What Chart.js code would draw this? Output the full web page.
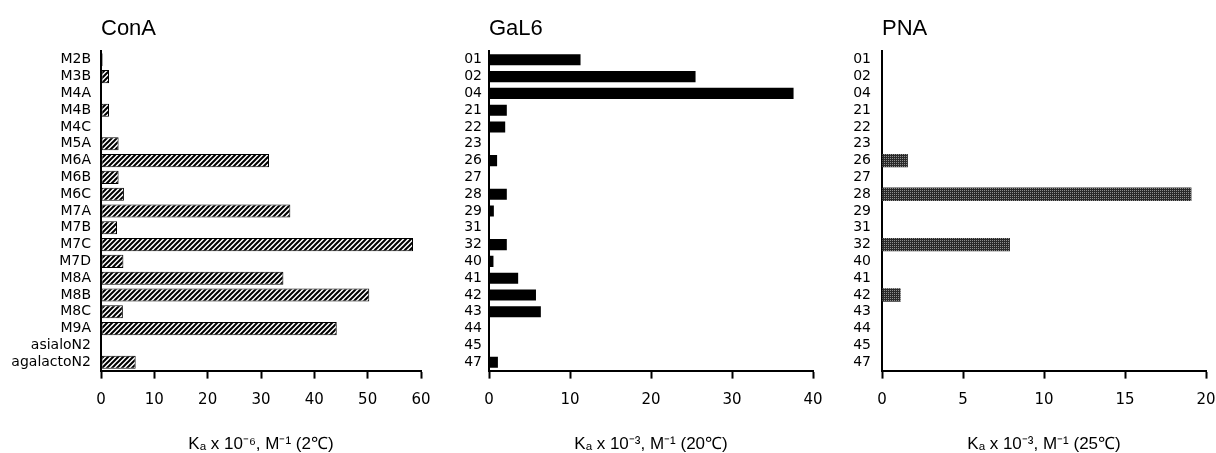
<!DOCTYPE html>
<html>
<head>
<meta charset="utf-8">
<script src="https://cdn.jsdelivr.net/npm/chart.js@4.4.1/dist/chart.umd.min.js"></script>
<style>
  body { margin: 0; background: #fff; overflow: hidden; }
  .panel { position: absolute; top: 0; }
</style>
</head>
<body>
<div class="panel" style="left:0px"><canvas id="cona" width="440" height="453"></canvas></div>
<div class="panel" style="left:440px"><canvas id="gal6" width="390" height="453"></canvas></div>
<div class="panel" style="left:830px"><canvas id="pna" width="386" height="453"></canvas></div>
<script>
// ConA panel
const conaLabels = ['M2B','M3B','M4A','M4B','M4C','M5A','M6A','M6B','M6C','M7A','M7B','M7C','M7D','M8A','M8B','M8C','M9A','asialoN2','agalactoN2'];
const conaValues = [0.3, 1.5, 0, 1.5, 0.2, 3.3, 31.5, 3.3, 4.3, 35.5, 3, 58.5, 4.2, 34.2, 50.3, 4.1, 44.2, 0.2, 6.5];
const conaTicks = [0, 60, 10];

// GaL6 and PNA panels share the same oligosaccharide ids
const sugarLabels = ['01','02','04','21','22','23','26','27','28','29','31','32','40','41','42','43','44','45','47'];
const gal6Values = [11.3, 25.5, 37.6, 2.2, 2.0, 0, 1.0, 0, 2.2, 0.6, 0, 2.2, 0.55, 3.6, 5.8, 6.4, 0, 0, 1.1];
const gal6Ticks = [0, 40, 10];
const pnaValues = [0, 0, 0, 0, 0, 0, 1.6, 0, 19.1, 0, 0, 7.9, 0, 0, 1.15, 0, 0, 0, 0];
const pnaTicks = [0, 20, 5];

function hatch() {
  const c = document.createElement('canvas');
  c.width = 5; c.height = 5;
  const g = c.getContext('2d');
  g.fillStyle = '#fff';
  g.fillRect(0, 0, 5, 5);
  g.strokeStyle = '#000';
  g.lineWidth = 2;
  g.beginPath();
  g.moveTo(-1, 6); g.lineTo(6, -1);
  g.moveTo(-1, 1); g.lineTo(1, -1);
  g.moveTo(4, 6); g.lineTo(6, 4);
  g.stroke();
  return g.createPattern(c, 'repeat');
}

function stipple() {
  const c = document.createElement('canvas');
  c.width = 2; c.height = 2;
  const g = c.getContext('2d');
  g.fillStyle = '#2a2a2a'; g.fillRect(0, 0, 2, 2);
  g.fillStyle = '#8f8f8f'; g.fillRect(0, 0, 1, 1);
  return g.createPattern(c, 'repeat');
}

function makeChart(id, cfg) {
  const ctx = document.getElementById(id).getContext('2d');
  return new Chart(ctx, {
    type: 'bar',
    data: {
      labels: cfg.labels,
      datasets: [{
        data: cfg.values,
        backgroundColor: cfg.fill,
        borderColor: '#000',
        borderWidth: cfg.border,
        borderSkipped: false,
        categoryPercentage: 1,
        barPercentage: cfg.barPct
      }]
    },
    options: {
      indexAxis: 'y',
      responsive: false,
      animation: false,
      layout: { padding: { left: 0, right: cfg.right, top: 0, bottom: 0 } },
      plugins: {
        legend: { display: false },
        tooltip: { enabled: false },
        title: {
          display: true,
          text: cfg.title,
          align: 'start',
          fullSize: false,
          color: '#000',
          font: { family: 'Liberation Sans', size: 22, weight: 'normal' },
          padding: { top: 16, bottom: 9 }
        }
      },
      scales: {
        x: {
          min: cfg.ticks[0],
          max: cfg.ticks[1],
          ticks: {
            stepSize: cfg.ticks[2],
            color: '#000',
            padding: 13,
            font: { family: 'DejaVu Sans', size: 15 }
          },
          grid: { display: true, drawOnChartArea: false, tickLength: 8, color: '#000', tickWidth: 2 },
          border: { display: true, color: '#000', width: 2 },
          title: {
            display: true,
            text: cfg.axisTitle,
            color: '#000',
            font: { family: 'Liberation Sans', size: 17 },
            padding: { top: 12, bottom: -2 }
          },
          // keep the plot edge where the reference has it; the last label still fits
          afterFit: s => { s.paddingLeft = 0; s.paddingRight = 0; }
        },
        y: {
          ticks: {
            color: '#000',
            padding: cfg.labelPad,
            autoSkip: false,
            font: { family: 'DejaVu Sans', size: 14 }
          },
          grid: { display: false, drawTicks: false },
          border: { display: true, color: '#000', width: 2 },
          afterFit: s => { s.width = cfg.yWidth; }
        }
      }
    }
  });
}

makeChart('cona', {
  title: 'ConA', labels: conaLabels, values: conaValues, ticks: conaTicks,
  fill: hatch(), border: 1, barPct: 0.78, right: 19, yWidth: 101, labelPad: 10,
  axisTitle: 'Kₐ x 10⁻⁶, M⁻¹ (2℃)'
});
makeChart('gal6', {
  title: 'GaL6', labels: sugarLabels, values: gal6Values, ticks: gal6Ticks,
  fill: '#000', border: 0, barPct: 0.66, right: 17, yWidth: 49, labelPad: 7,
  axisTitle: 'Kₐ x 10⁻³, M⁻¹ (20℃)'
});
makeChart('pna', {
  title: 'PNA', labels: sugarLabels, values: pnaValues, ticks: pnaTicks,
  fill: stipple(), border: 0, barPct: 0.8, right: 10, yWidth: 52, labelPad: 11,
  axisTitle: 'Kₐ x 10⁻³, M⁻¹ (25℃)'
});
</script>
</body>
</html>
